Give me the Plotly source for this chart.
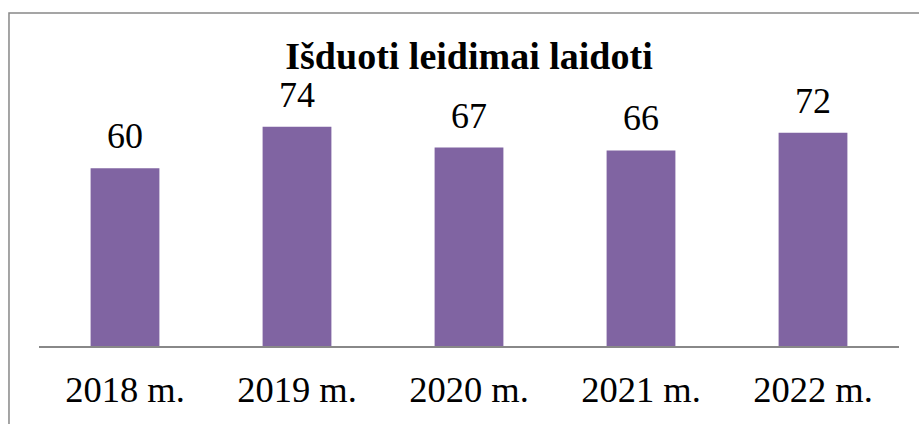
import plotly.graph_objects as go

categories = ["2018 m.", "2019 m.", "2020 m.", "2021 m.", "2022 m."]
values = [60, 74, 67, 66, 72]
title_text = "<b>Išduoti leidimai laidoti</b>"

FONT = "Liberation Serif, serif"
BAR = "#8064A2"

fig = go.Figure()
fig.add_trace(go.Bar(x=categories, y=values, marker=dict(color=BAR, line=dict(width=0)),
                     hoverinfo="skip"))

for c, v in zip(categories, values):
    fig.add_annotation(x=c, y=v, text=str(v), showarrow=False, yanchor="bottom",
                       yshift=10, font=dict(family=FONT, size=36, color="black"))

fig.add_shape(type="rect", xref="paper", yref="paper",
              x0=-0.0349, x1=1.04, y0=-0.36, y1=1.405,
              line=dict(color="#888888", width=1.5), fillcolor="rgba(0,0,0,0)", layer="below")

fig.update_layout(
    width=919, height=424,
    margin=dict(l=39, r=20, t=109, b=78),
    paper_bgcolor="white", plot_bgcolor="white",
    showlegend=False,
    bargap=0.6,
    hovermode=False,
    title=dict(text=title_text, x=0.5, xref="paper", xanchor="center",
               y=1 - 56 / 424, yref="container", yanchor="middle",
               font=dict(family=FONT, size=38, color="black")),
    xaxis=dict(showline=True, linecolor="#888888", linewidth=1.5, ticks="",
               showgrid=False, tickfont=dict(family=FONT, size=36.5, color="black"),
               ticklabelstandoff=11),
    yaxis=dict(range=[0, 80], visible=False, showgrid=False, zeroline=False),
)

fig.write_html("out.html", config={"displayModeBar": False, "staticPlot": True})

with open("out.html", "r", encoding="utf-8") as f:
    html = f.read()
html = html.replace("<body>", '<body style="margin:0;padding:0;">', 1)
html = html.replace("<head>", "<head><style>html,body{margin:0;padding:0;}</style>", 1)
with open("out.html", "w", encoding="utf-8") as f:
    f.write(html)
